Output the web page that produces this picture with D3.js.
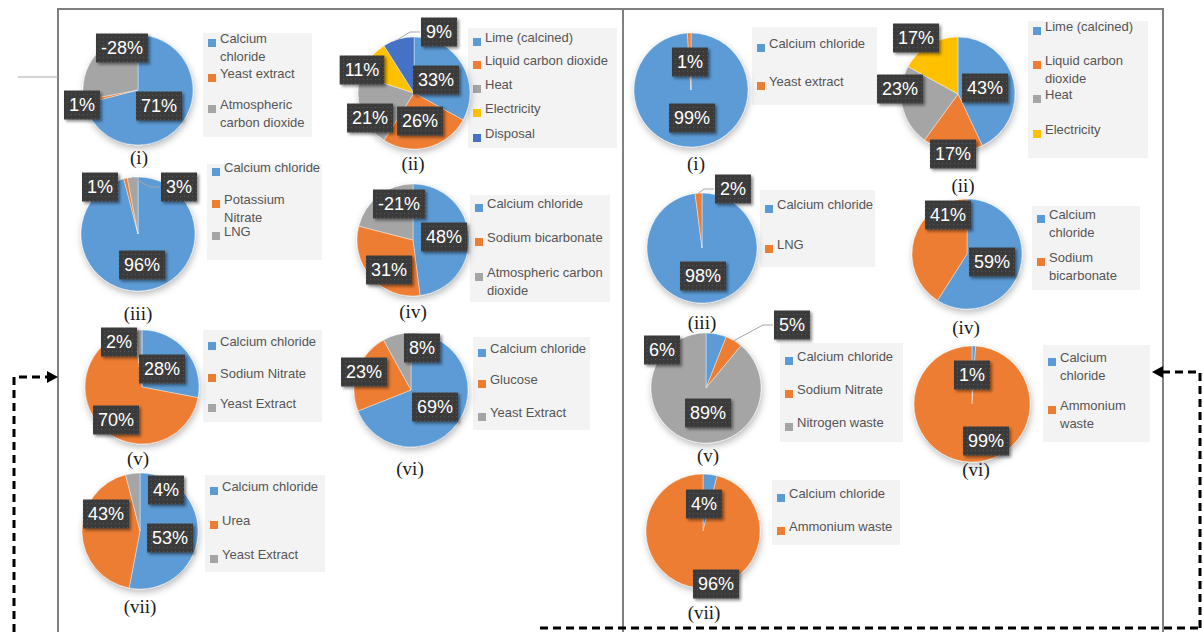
<!DOCTYPE html>
<html>
<head>
<meta charset="utf-8">
<script src="https://cdn.jsdelivr.net/npm/d3@7"></script>
<style>
body { margin: 0; background: #fff; }
svg { display: block; }
</style>
</head>
<body>
<svg id="fig"></svg>
<script>
// ---- left panel data ----
var l1Names = ["Calcium chloride", "Yeast extract", "Atmospheric carbon dioxide"];
var l1Values = [71, 1, -28];
var l2Names = ["Lime (calcined)", "Liquid carbon dioxide", "Heat", "Electricity", "Disposal"];
var l2Values = [33, 26, 21, 11, 9];
var l3Names = ["Calcium chloride", "Potassium Nitrate", "LNG"];
var l3Values = [96, 1, 3];
var l4Names = ["Calcium chloride", "Sodium bicarbonate", "Atmospheric carbon dioxide"];
var l4Values = [48, 31, -21];
var l5Names = ["Calcium chloride", "Sodium Nitrate", "Yeast Extract"];
var l5Values = [28, 70, 2];
var l6Names = ["Calcium chloride", "Glucose", "Yeast Extract"];
var l6Values = [69, 23, 8];
var l7Names = ["Calcium chloride", "Urea", "Yeast Extract"];
var l7Values = [53, 43, 4];

// ---- right panel data ----
var r1Names = ["Calcium chloride", "Yeast extract"];
var r1Values = [99, 1];
var r2Names = ["Lime (calcined)", "Liquid carbon dioxide", "Heat", "Electricity"];
var r2Values = [43, 17, 23, 17];
var r3Names = ["Calcium chloride", "LNG"];
var r3Values = [98, 2];
var r4Names = ["Calcium chloride", "Sodium bicarbonate"];
var r4Values = [59, 41];
var r5Names = ["Calcium chloride", "Sodium Nitrate", "Nitrogen waste"];
var r5Values = [6, 5, 89];
var r6Names = ["Calcium chloride", "Ammonium waste"];
var r6Values = [1, 99];
var r7Names = ["Calcium chloride", "Ammonium waste"];
var r7Values = [4, 96];

var titles = ["(i)", "(ii)", "(iii)", "(iv)", "(v)", "(vi)", "(vii)"];

var palette = ["#5b9bd5", "#ed7d31", "#a5a5a5", "#ffc000", "#4472c4"];

// layout: pie centre, radius, label offsets, legend box, title position
var charts = [
    {names: l1Names, values: l1Values, title: titles[0], cx: 138, cy: 90, r: 55,
     lab: [[21, 16], [-56, 15], [-16, -42]], lead: -1,
     leg: {x: 203, y: 33, w: 109, h: 104, wrap: 92, ys: [43, 78, 109]}, tx: 139, ty: 157},
    {names: l2Names, values: l2Values, title: titles[1], cx: 414, cy: 93, r: 56,
     lab: [[22, -13], [6, 28], [-44, 25], [-52, -23], [25, -61]], lead: 4,
     leg: {x: 468, y: 28, w: 149, h: 120, wrap: 200, ys: [42, 65, 89, 113, 138]}, tx: 413, ty: 163},
    {names: l3Names, values: l3Values, title: titles[2], cx: 138, cy: 234, r: 57,
     lab: [[4, 31], [-38, -47], [41, -47]], lead: 2,
     leg: {x: 207, y: 164, w: 115, h: 96, wrap: 99, ys: [172, 204, 236]}, tx: 138, ty: 313},
    {names: l4Names, values: l4Values, title: titles[3], cx: 413, cy: 240, r: 56,
     lab: [[31, -3], [-24, 30], [-14, -36]], lead: -1,
     leg: {x: 470, y: 195, w: 140, h: 107, wrap: 125, ys: [208, 242, 277]}, tx: 413, ty: 311},
    {names: l5Names, values: l5Values, title: titles[4], cx: 142, cy: 387, r: 57,
     lab: [[20, -18], [-26, 33], [-23, -45]], lead: -1,
     leg: {x: 203, y: 330, w: 119, h: 92, wrap: 200, ys: [346, 378, 408]}, tx: 138, ty: 458},
    {names: l6Names, values: l6Values, title: titles[5], cx: 411, cy: 390, r: 57,
     lab: [[24, 17], [-47, -18], [11, -42]], lead: -1,
     leg: {x: 473, y: 337, w: 117, h: 93, wrap: 200, ys: [353, 384, 417]}, tx: 410, ty: 468},
    {names: l7Names, values: l7Values, title: titles[6], cx: 140, cy: 531, r: 58,
     lab: [[30, 7], [-34, -17], [26, -41]], lead: -1,
     leg: {x: 205, y: 475, w: 120, h: 97, wrap: 200, ys: [491, 525, 559]}, tx: 140, ty: 606},

    {names: r1Names, values: r1Values, title: titles[0], cx: 691, cy: 90, r: 57,
     lab: [[1, 28], [-1, -28]], lead: -1,
     leg: {x: 752, y: 27, w: 125, h: 78, wrap: 200, ys: [48, 86]}, tx: 696, ty: 163},
    {names: r2Names, values: r2Values, title: titles[1], cx: 958, cy: 94, r: 57,
     lab: [[27, -6], [-5, 60], [-58, -5], [-42, -56]], lead: -1,
     leg: {x: 1028, y: 21, w: 120, h: 137, wrap: 95, ys: [31, 65, 99, 134]}, tx: 963, ty: 185},
    {names: r3Names, values: r3Values, title: titles[2], cx: 702, cy: 248, r: 55,
     lab: [[1, 28], [31, -59]], lead: 1,
     leg: {x: 760, y: 190, w: 115, h: 77, wrap: 200, ys: [209, 249]}, tx: 702, ty: 322},
    {names: r4Names, values: r4Values, title: titles[3], cx: 967, cy: 254, r: 55,
     lab: [[25, 8], [-19, -39]], lead: -1,
     leg: {x: 1032, y: 206, w: 108, h: 84, wrap: 90, ys: [219, 262]}, tx: 966, ty: 327},
    {names: r5Names, values: r5Values, title: titles[4], cx: 706, cy: 388, r: 55,
     lab: [[-44, -38], [86, -63], [2, 25]], lead: 1,
     leg: {x: 780, y: 343, w: 123, h: 99, wrap: 200, ys: [361, 394, 427]}, tx: 708, ty: 455},
    {names: r6Names, values: r6Values, title: titles[5], cx: 972, cy: 404, r: 58,
     lab: [[0, -29], [14, 37]], lead: -1,
     leg: {x: 1043, y: 345, w: 107, h: 97, wrap: 90, ys: [362, 410]}, tx: 976, ty: 469},
    {names: r7Names, values: r7Values, title: titles[6], cx: 703, cy: 531, r: 57,
     lab: [[1, -27], [13, 53]], lead: -1,
     leg: {x: 772, y: 480, w: 128, h: 65, wrap: 200, ys: [498, 531]}, tx: 704, ty: 612}
];

var svg = d3.select("#fig").attr("width", 1203).attr("height", 632);

var defs = svg.append("defs");
defs.append("filter").attr("id", "pieShadow")
    .attr("x", "-30%").attr("y", "-30%").attr("width", "160%").attr("height", "160%")
    .append("feDropShadow")
    .attr("dx", 1).attr("dy", 3).attr("stdDeviation", 3.5)
    .attr("flood-color", "#000").attr("flood-opacity", 0.28);
defs.append("filter").attr("id", "boxShadow")
    .attr("x", "-30%").attr("y", "-30%").attr("width", "160%").attr("height", "160%")
    .append("feDropShadow")
    .attr("dx", 2).attr("dy", 2).attr("stdDeviation", 1.6)
    .attr("flood-color", "#000").attr("flood-opacity", 0.45);
var pat = defs.append("pattern").attr("id", "dots")
    .attr("width", 4).attr("height", 4).attr("patternUnits", "userSpaceOnUse");
pat.append("rect").attr("width", 4).attr("height", 4).attr("fill", "#3b3b3b");
pat.append("rect").attr("x", 1).attr("y", 1).attr("width", 1).attr("height", 1).attr("fill", "#575757");

// frame
svg.append("rect").attr("x", 58).attr("y", 9).attr("width", 1105).attr("height", 640)
    .attr("fill", "none").attr("stroke", "#808080").attr("stroke-width", 2);
svg.append("line").attr("x1", 623).attr("x2", 623).attr("y1", 9).attr("y2", 632)
    .attr("stroke", "#808080").attr("stroke-width", 2);
svg.append("line").attr("x1", 18).attr("x2", 58).attr("y1", 77).attr("y2", 77)
    .attr("stroke", "#a6a6a6").attr("stroke-width", 1);
svg.append("path").attr("d", "M1084,30V77H1125")
    .attr("fill", "none").attr("stroke", "#a6a6a6").attr("stroke-width", 1);

var color = d3.scaleOrdinal().domain(d3.range(palette.length)).range(palette);
var pie = d3.pie().sort(null).value(function(d){ return Math.abs(d); });

var drawChart = function(c){
    var arcs = pie(c.values);
    var arc = d3.arc().innerRadius(0).outerRadius(c.r);

    // legend
    var lg = svg.append("g");
    lg.append("rect").attr("x", c.leg.x).attr("y", c.leg.y)
        .attr("width", c.leg.w).attr("height", c.leg.h).attr("fill", "#f3f3f3");
    c.names.forEach(function(name, i){
        var y = c.leg.ys[i];
        lg.append("rect").attr("x", c.leg.x + 5).attr("y", y - 4)
            .attr("width", 8).attr("height", 8).attr("fill", color(i));
        var t = lg.append("text").attr("x", c.leg.x + 17).attr("y", y)
            .attr("dy", "0.35em")
            .style("font-family", "'Liberation Sans', Arial, sans-serif")
            .style("font-size", "13px").attr("fill", "#555");
        var words = name.split(" ");
        var line = [];
        var ts = t.append("tspan").attr("x", c.leg.x + 17).attr("dy", 0);
        words.forEach(function(w){
            line.push(w);
            ts.text(line.join(" "));
            if (ts.node().getComputedTextLength() > c.leg.wrap && line.length > 1) {
                line.pop();
                ts.text(line.join(" "));
                line = [w];
                ts = t.append("tspan").attr("x", c.leg.x + 17).attr("dy", 18).text(w);
            }
        });
    });

    // pie
    var g = svg.append("g").attr("transform", "translate(" + c.cx + "," + c.cy + ")");
    g.append("g").attr("filter", "url(#pieShadow)")
        .selectAll("path")
        .data(arcs)
        .enter()
        .append("path")
        .attr("d", arc)
        .attr("fill", function(d, i){ return color(i); })
        .attr("stroke", "#fff")
        .attr("stroke-width", 0.4);

    // leader line
    if (c.lead >= 0) {
        var a = arcs[c.lead];
        var mid = (a.startAngle + a.endAngle) / 2;
        var p0 = [c.r * Math.sin(mid), -c.r * Math.cos(mid)];
        var off = c.lab[c.lead];
        var edge = off[0] > p0[0] ? off[0] - 19 : off[0] + 19;
        var elbow = off[0] > p0[0] ? edge - 10 : edge + 10;
        g.append("path")
            .attr("d", d3.line()([p0, [elbow, off[1]], [edge, off[1]]]))
            .attr("fill", "none").attr("stroke", "#a6a6a6").attr("stroke-width", 1);
    }

    // data labels
    arcs.forEach(function(d, i){
        var lb = g.append("g").attr("transform", "translate(" + c.lab[i][0] + "," + c.lab[i][1] + ")");
        var bg = lb.append("rect").attr("filter", "url(#boxShadow)").attr("fill", "url(#dots)");
        var txt = lb.append("text")
            .attr("text-anchor", "middle").attr("dy", "0.36em")
            .style("font-family", "'Liberation Sans', Arial, sans-serif")
            .style("font-size", "18px").attr("fill", "#fff")
            .text(d.data + "%");
        var w = txt.node().getComputedTextLength() + 10;
        bg.attr("x", -w / 2).attr("y", -14.5).attr("width", w).attr("height", 29);
    });

    // sub-figure title
    svg.append("text").attr("x", c.tx).attr("y", c.ty).attr("dy", "0.35em")
        .attr("text-anchor", "middle")
        .style("font-family", "'Liberation Serif', 'Times New Roman', serif")
        .style("font-size", "19px").attr("fill", "#1a1a1a")
        .text(c.title);
};

charts.forEach(drawChart);

// dashed flow arrows
var dash = svg.append("g").attr("fill", "none").attr("stroke", "#000")
    .attr("stroke-width", 3).attr("stroke-dasharray", "8,5");
dash.append("path").attr("d", "M14,632V377H48");
dash.append("path").attr("d", "M1200,628V372H1163");
dash.append("path").attr("d", "M540,628H1200");
svg.append("path").attr("d", "M58,377L47,371L47,383Z").attr("fill", "#000");
svg.append("path").attr("d", "M1152,372L1163,366L1163,378Z").attr("fill", "#000");
</script>
</body>
</html>
